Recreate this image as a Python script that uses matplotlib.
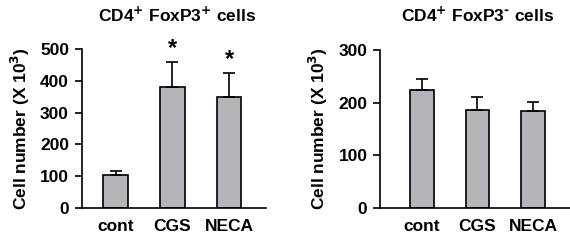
import matplotlib
matplotlib.use("Agg")
import matplotlib.pyplot as plt

plt.rcParams['font.family'] = ['Liberation Sans', 'DejaVu Sans']
plt.rcParams['font.weight'] = 'bold'

categories = ["cont", "CGS", "NECA"]
pos_values = [104, 380, 349]
pos_errors = [12, 79, 75]
neg_values = [224, 186, 184]
neg_errors = [21, 25, 17]

bar_color = "#b4b4b9"

fig = plt.figure(figsize=(5.70, 2.43), dpi=100)
ax1 = fig.add_axes([81.5/570, 0.144, (266-81.5)/570, 0.654])
ax2 = fig.add_axes([380/570, 0.144, 190/570, 0.65])

def draw(ax, vals, errs, ymax, yticks, xlim, title, title_x):
    x = list(range(len(categories)))
    ax.bar(x, vals, width=0.43, color=bar_color, edgecolor="black", linewidth=1.2,
           yerr=[[0]*len(errs), errs], capsize=4,
           error_kw=dict(elinewidth=1.2, capthick=1.2, ecolor="black"), zorder=2)
    ax.set_xlim(*xlim)
    ax.set_ylim(0, ymax)
    ax.set_yticks(yticks)
    ax.set_xticks(x)
    ax.set_xticklabels(categories, fontsize=12.5, fontweight='bold')
    ax.tick_params(axis='x', length=0, pad=8)
    ax.tick_params(axis='y', length=5, width=1.2, labelsize=12.5, pad=4, direction='out')
    for lab in ax.get_yticklabels():
        lab.set_fontweight('bold')
    ax.spines['top'].set_visible(False)
    ax.spines['right'].set_visible(False)
    ax.spines['left'].set_linewidth(1.2)
    ax.spines['bottom'].set_linewidth(1.2)
    ax.set_ylabel("Cell number (X 10$^\\mathbf{3}$)", fontsize=12.5, fontweight='bold', labelpad=6)
    fig.text(title_x, 1 - 15/243, title, ha='center', va='center', fontsize=12.5, fontweight='bold')

draw(ax1, pos_values, pos_errors, 500, [0, 100, 200, 300, 400, 500], (-0.6, 2.65),
     "CD4$^\\mathbf{+}$ FoxP3$^\\mathbf{+}$ cells", 177/570)
draw(ax2, neg_values, neg_errors, 300, [0, 100, 200, 300], (-0.76, 2.67),
     "CD4$^\\mathbf{+}$ FoxP3$^\\text{-}$ cells", 478/570)

# significance markers
stars = ["", "*", "*"]
for i, s in enumerate(stars):
    if s:
        ax1.text(i, pos_values[i] + pos_errors[i] + 8, s, ha='center', va='bottom',
                 fontsize=17, fontweight='bold')

fig.savefig("out.png", dpi=100)
